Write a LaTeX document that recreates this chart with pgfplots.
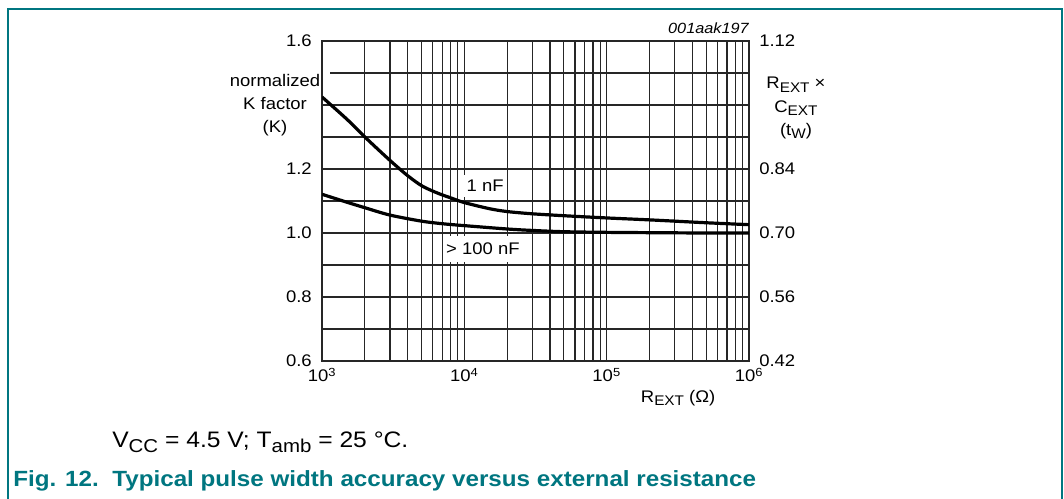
\documentclass[border=0pt]{standalone}
\usepackage{pgfplots}
\pgfplotsset{compat=1.18}
\usepackage{fontspec}
\setmainfont[FakeStretch=1.1]{Liberation Sans}
\definecolor{nxpteal}{RGB}{0,118,128}
\newcommand\tickfont{\fontsize{12.6}{17.5}\selectfont}
\newcommand\sub[1]{\raisebox{-0.35ex}{\scalebox{0.83}{#1}}}

\begin{document}
\begin{tikzpicture}[x=0.75pt,y=0.75pt]
\path[use as bounding box] (0,0) rectangle (1064,499);
% outer frame
\draw[nxpteal,line width=1.5pt] (8,0) -- (8,490) -- (1062,490) -- (1062,0);

\begin{axis}[
	at={(241.5pt,103.5pt)}, anchor=south west,
	scale only axis, width=320.25pt, height=240pt,
	xmode=log,
	xmin=1e3, xmax=1e6,
	ymin=0.6, ymax=1.6,
	xtick={1e3,1e4,1e5,1e6},
	xticklabels={10\textsuperscript{3},10\textsuperscript{4},10\textsuperscript{5},10\textsuperscript{6}},
	minor xtick={2e3,3e3,4e3,5e3,6e3,7e3,8e3,9e3,
		2e4,3e4,4e4,5e4,6e4,7e4,8e4,9e4,
		2e5,3e5,4e5,5e5,6e5,7e5,8e5,9e5},
	ytick={0.6,0.8,1.0,1.2,1.6},
	yticklabels={0.6,0.8,1.0,1.2,1.6},
	minor ytick={0.7,0.9,1.1,1.3,1.4,1.5},
	grid=both,
	major grid style={line width=0.95pt,black!85},
	minor grid style={line width=0.95pt,black!85},
	axis line style={line width=0.95pt,black!85},
	major tick length=0pt, minor tick length=0pt,
	tick label style={font=\tickfont, inner sep=0pt},
	yticklabel style={xshift=-7.5pt},
	xticklabel style={yshift=-5pt},
	xlabel={R\sub{EXT} (Ω)},
	xlabel style={at={(axis description cs:0.834,-0.116)}, anchor=center, font=\tickfont, inner sep=0pt},
	every axis y label/.style={at={(axis description cs:-0.110,0.80)}, anchor=center, align=center, font=\fontsize{12.6}{17.3}\selectfont},
	ylabel={normalized\\K factor\\(K)},
]
% 1 nF
\addplot[black, line width=2.4pt, smooth] coordinates {
	(1000,1.425) (1500,1.355) (2000,1.300) (3000,1.227) (4000,1.179)
	(5000,1.148) (6000,1.131) (7000,1.119) (8000,1.110) (10000,1.095)
	(15000,1.076) (20000,1.067) (30000,1.060) (50000,1.054) (100000,1.047)
	(200000,1.041) (500000,1.032) (1000000,1.026)};
% > 100 nF
\addplot[black, line width=2.4pt, smooth] coordinates {
	(1000,1.121) (1500,1.096) (2000,1.079) (3000,1.056) (5000,1.037)
	(7000,1.029) (10000,1.023) (20000,1.0125) (30000,1.008) (50000,1.004)
	(100000,1.002) (200000,1.001) (500000,1.0) (1000000,1.0)};

\node[fill=white, font=\tickfont, inner xsep=2pt, inner ysep=4pt] at (axis cs:14000,1.147) {1 nF};
\node[fill=white, font=\tickfont, inner xsep=2pt, inner ysep=5pt] at (axis cs:13500,0.950) {> 100 nF};
\end{axis}

\begin{axis}[
	at={(241.5pt,103.5pt)}, anchor=south west,
	scale only axis, width=320.25pt, height=240pt,
	xmode=log, xmin=1e3, xmax=1e6,
	ymin=0.42, ymax=1.12,
	hide x axis,
	axis line style={draw=none},
	ytick pos=right, yticklabel pos=right,
	ytick={0.42,0.56,0.70,0.84,1.12},
	yticklabels={0.42,0.56,0.70,0.84,1.12},
	major tick length=0pt,
	tick label style={font=\tickfont, inner sep=0pt},
	yticklabel style={xshift=7.5pt},
	every axis y label/.style={at={(axis description cs:1.110,0.79)}, anchor=center, align=center, font=\fontsize{12.6}{17.5}\selectfont},
	ylabel={R\sub{EXT} ×\\C\sub{EXT}\\(t\sub{W})},
]
\addplot[draw=none] coordinates {(1000,0.42) (1000000,1.12)};
\end{axis}

% white gap where the left label meets the axis line
\fill[white] (322.6,499-66) rectangle (329.5,499-94);
\node[anchor=east, font=\fontsize{11.1}{13}\selectfont\itshape, inner sep=0pt] at (749,499-28) {001aak197};
\node[anchor=base west, font=\fontsize{16.8}{20}\selectfont, inner sep=0pt] at (112,499-448) {V\sub{CC} = 4.5 V; T\sub{amb} = 25 °C.};
\node[anchor=base west, font=\fontsize{16.5}{19}\selectfont\bfseries, text=nxpteal, inner sep=0pt] at (13,499-487) {Fig. 12.\ \ Typical pulse width accuracy versus external resistance};
\end{tikzpicture}
\end{document}
